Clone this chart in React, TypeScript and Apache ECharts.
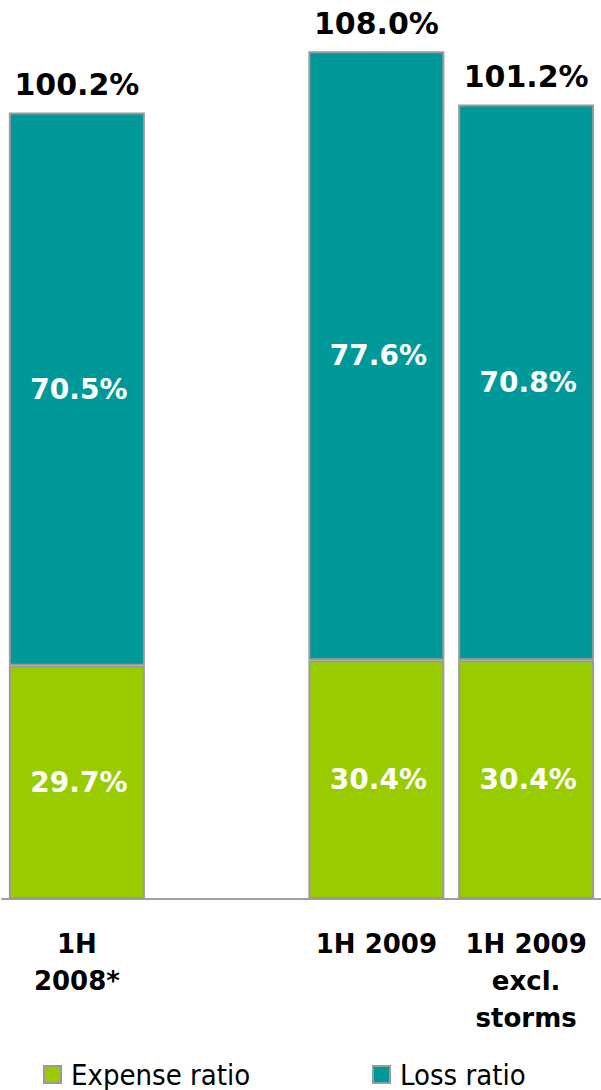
import React, { useEffect, useRef } from "react";
import * as echarts from "echarts";

const categories = ["1H\n2008*", "", "1H 2009", "1H 2009\nexcl.\nstorms"];
const expenseRatio: (number | null)[] = [29.7, null, 30.4, 30.4];
const lossRatio: (number | null)[] = [70.5, null, 77.6, 70.8];
const totals: (string | null)[] = ["100.2%", null, "108.0%", "101.2%"];
const seriesNames = ["Expense ratio", "Loss ratio"];

const FONT = "'DejaVu Sans', Verdana, sans-serif";
const LEGEND_FONT = "'DejaVu Sans Condensed', 'DejaVu Sans'";

export default function App() {
  const ref = useRef<HTMLDivElement>(null);
  useEffect(() => {
    document.body.style.margin = "0";
    const chart = echarts.init(ref.current!, null, { renderer: "svg" });
    const border = { borderColor: "#9a9a9a", borderWidth: 2 };
    const legendCommon = {
      top: 1060,
      padding: 0,
      itemWidth: 17,
      itemHeight: 17,
      icon: "rect",
      textStyle: { fontFamily: LEGEND_FONT, fontSize: 29, color: "#000", lineHeight: 28, padding: [0, 0, 0, 5] },
    };
    chart.setOption({
      animation: false,
      grid: { left: 2, width: 601, top: 35.5, bottom: 191, containLabel: false },
      xAxis: {
        type: "category",
        data: categories,
        axisLine: { show: true, lineStyle: { color: "#a0a0a0", width: 2 } },
        axisTick: { show: false },
        axisLabel: {
          interval: 0,
          margin: 26,
          color: "#000",
          fontFamily: FONT,
          fontWeight: "bold",
          fontSize: 26,
          lineHeight: 37,
        },
      },
      yAxis: { type: "value", min: 0, max: 110, show: false, splitLine: { show: false } },
      legend: [
        { ...legendCommon, data: [seriesNames[0]], left: 43 },
        { ...legendCommon, data: [seriesNames[1]], left: 372 },
      ],
      series: [
        {
          name: seriesNames[0],
          type: "bar",
          stack: "total",
          barWidth: 136,
          data: expenseRatio,
          itemStyle: { color: "#99CC00", ...border },
          label: {
            show: true,
            position: "inside",
            offset: [2, 0],
            color: "#fff",
            fontFamily: FONT,
            fontWeight: "bold",
            fontSize: 28,
            formatter: (p: any) => (p.value == null ? "" : p.value.toFixed(1) + "%"),
          },
        },
        {
          name: seriesNames[1],
          type: "bar",
          stack: "total",
          barWidth: 136,
          data: lossRatio,
          itemStyle: { color: "#009999", ...border },
          label: {
            show: true,
            position: "inside",
            offset: [2, 0],
            color: "#fff",
            fontFamily: FONT,
            fontWeight: "bold",
            fontSize: 28,
            formatter: (p: any) => (p.value == null ? "" : p.value.toFixed(1) + "%"),
          },
        },
        {
          name: "total",
          type: "bar",
          stack: "total",
          barWidth: 136,
          data: totals.map((t) => (t == null ? null : 0)),
          itemStyle: { color: "transparent", borderWidth: 0 },
          label: {
            show: true,
            position: "top",
            distance: 13,
            color: "#000",
            fontFamily: FONT,
            fontWeight: "bold",
            fontSize: 30,
            formatter: (p: any) => totals[p.dataIndex] ?? "",
          },
          silent: true,
        },
      ],
    });
    return () => chart.dispose();
  }, []);
  return <div ref={ref} style={{ width: 601, height: 1090 }} />;
}
